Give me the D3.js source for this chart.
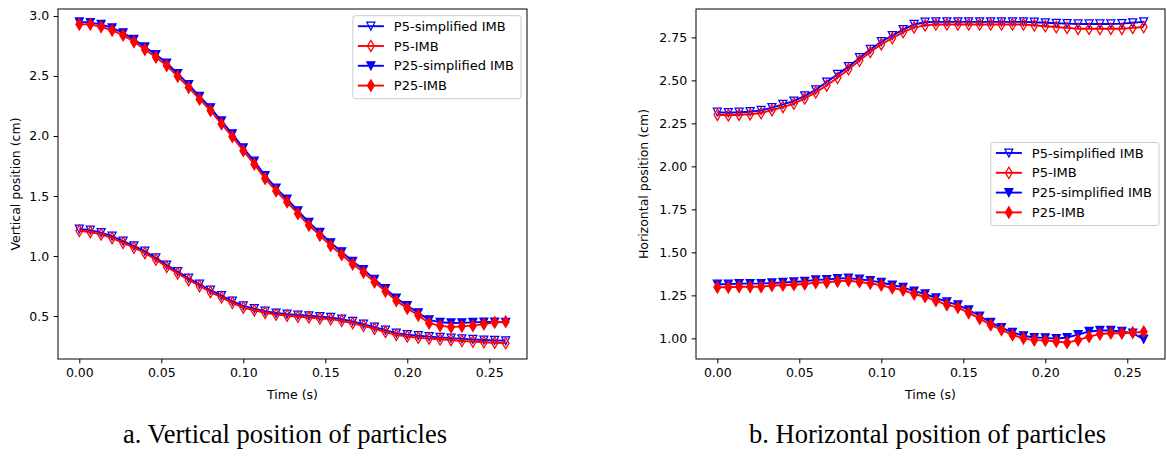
<!DOCTYPE html>
<html>
<head>
<meta charset="utf-8">
<script src="https://d3js.org/d3.v7.min.js"></script>
<style>
  body { margin: 0; background: #fff; }
  svg text { font-family: "DejaVu Sans", sans-serif; fill: #000; }
</style>
</head>
<body>
<svg id="fig" width="1167" height="457"></svg>
<script>
// time samples (s)
var TIME = [0.0000, 0.0067, 0.0133, 0.0200, 0.0267, 0.0333, 0.0400, 0.0467, 0.0533, 0.0600,
            0.0667, 0.0733, 0.0800, 0.0867, 0.0933, 0.1000, 0.1067, 0.1133, 0.1200, 0.1267,
            0.1333, 0.1400, 0.1467, 0.1533, 0.1600, 0.1667, 0.1733, 0.1800, 0.1867, 0.1933,
            0.2000, 0.2067, 0.2133, 0.2200, 0.2267, 0.2333, 0.2400, 0.2467, 0.2533, 0.2600];

// a. vertical position (cm)
var vertP5Simplified = [1.225, 1.215, 1.195, 1.165, 1.125, 1.085, 1.040, 0.985, 0.925, 0.870,
                        0.815, 0.765, 0.715, 0.670, 0.625, 0.585, 0.562, 0.540, 0.525, 0.516,
                        0.508, 0.502, 0.495, 0.488, 0.474, 0.455, 0.432, 0.408, 0.382, 0.358,
                        0.345, 0.336, 0.328, 0.322, 0.316, 0.310, 0.305, 0.300, 0.297, 0.294];
var vertP5IMB = [1.210, 1.200, 1.180, 1.150, 1.110, 1.070, 1.025, 0.970, 0.910, 0.855,
                 0.800, 0.750, 0.700, 0.655, 0.610, 0.570, 0.548, 0.527, 0.512, 0.503,
                 0.494, 0.488, 0.480, 0.474, 0.460, 0.440, 0.418, 0.393, 0.367, 0.343,
                 0.330, 0.320, 0.312, 0.306, 0.300, 0.292, 0.287, 0.282, 0.278, 0.274];
var vertP25Simplified = [2.950, 2.945, 2.930, 2.900, 2.860, 2.805, 2.742, 2.678, 2.608, 2.520,
                         2.428, 2.330, 2.235, 2.125, 2.018, 1.900, 1.790, 1.670, 1.566, 1.474,
                         1.377, 1.280, 1.196, 1.110, 1.035, 0.956, 0.887, 0.806, 0.728, 0.650,
                         0.586, 0.527, 0.468, 0.448, 0.442, 0.443, 0.447, 0.450, 0.450, 0.447];
var vertP25IMB = [2.930, 2.930, 2.910, 2.880, 2.840, 2.785, 2.720, 2.656, 2.587, 2.497,
                  2.405, 2.307, 2.212, 2.100, 1.994, 1.877, 1.765, 1.645, 1.542, 1.450,
                  1.353, 1.256, 1.172, 1.086, 1.011, 0.933, 0.864, 0.783, 0.706, 0.628,
                  0.564, 0.506, 0.440, 0.420, 0.408, 0.414, 0.420, 0.433, 0.447, 0.453];

// b. horizontal position (cm)
var horiP5Simplified = [2.315, 2.312, 2.315, 2.318, 2.325, 2.342, 2.360, 2.380, 2.410, 2.445,
                        2.490, 2.535, 2.580, 2.632, 2.680, 2.725, 2.760, 2.795, 2.825, 2.838,
                        2.840, 2.840, 2.840, 2.840, 2.840, 2.840, 2.840, 2.840, 2.840, 2.838,
                        2.835, 2.832, 2.830, 2.828, 2.828, 2.828, 2.828, 2.830, 2.835, 2.840];
var horiP5IMB = [2.300, 2.297, 2.300, 2.303, 2.310, 2.327, 2.345, 2.365, 2.395, 2.430,
                 2.470, 2.515, 2.565, 2.615, 2.665, 2.710, 2.745, 2.780, 2.808, 2.820,
                 2.825, 2.825, 2.825, 2.825, 2.825, 2.825, 2.825, 2.825, 2.825, 2.820,
                 2.815, 2.810, 2.805, 2.800, 2.800, 2.800, 2.800, 2.800, 2.805, 2.810];
var horiP25Simplified = [1.315, 1.315, 1.318, 1.318, 1.318, 1.322, 1.325, 1.328, 1.332, 1.340,
                         1.342, 1.348, 1.350, 1.344, 1.336, 1.325, 1.310, 1.297, 1.275, 1.258,
                         1.235, 1.212, 1.195, 1.165, 1.130, 1.093, 1.063, 1.035, 1.015, 1.005,
                         1.003, 0.998, 1.005, 1.022, 1.040, 1.046, 1.046, 1.040, 1.030, 0.995];
var horiP25IMB = [1.297, 1.297, 1.300, 1.300, 1.300, 1.307, 1.309, 1.312, 1.316, 1.324,
                  1.326, 1.332, 1.336, 1.328, 1.320, 1.309, 1.293, 1.281, 1.258, 1.242,
                  1.219, 1.195, 1.180, 1.148, 1.115, 1.078, 1.050, 1.020, 1.000, 0.990,
                  0.988, 0.982, 0.975, 0.990, 1.010, 1.025, 1.030, 1.030, 1.033, 1.038];

var SERIES_NAMES = ["P5-simplified IMB", "P5-IMB", "P25-simplified IMB", "P25-IMB"];
var X_TICKS = [0.00, 0.05, 0.10, 0.15, 0.20, 0.25];
var VERT_TICKS = [0.5, 1.0, 1.5, 2.0, 2.5, 3.0];
var HORI_TICKS = [1.00, 1.25, 1.50, 1.75, 2.00, 2.25, 2.50, 2.75];
var CAPTIONS = ["a. Vertical position of particles", "b. Horizontal position of particles"];

var FONT_SIZE = 12.5;
var LEGEND_FONT = 13;
var MARKER = 8;
var svg = d3.select("#fig");

// marker shapes (matplotlib 'v' and 'd')
function markerPath(kind) {
  var h = MARKER / 2;
  if (kind == "v") {
    return "M0," + h + "L" + (-h) + "," + (-h) + "L" + h + "," + (-h) + "Z";
  }
  var dh = MARKER * 0.707, dw = dh * 0.6;
  return "M0," + (-dh) + "L" + dw + ",0L0," + dh + "L" + (-dw) + ",0Z";
}

function seriesStyle(i) {
  return {
    color: (i % 2 == 0) ? "#0000ff" : "#ff0000",
    marker: (i % 2 == 0) ? "v" : "d",
    filled: i >= 2
  };
}

function drawPanel(p) {
  var g = svg.append("g");
  var x = d3.scaleLinear().domain([-0.013, 0.273]).range([p.left, p.right]);
  var y = d3.scaleLinear().domain(p.yDomain).range([p.bottom, p.top]);

  // lines + markers, drawn in legend order
  p.values.forEach(function (vals, i) {
    var st = seriesStyle(i);
    var pts = TIME.map(function (t, k) { return [t, vals[k]]; });
    g.append("path")
      .datum(pts)
      .attr("d", d3.line().x(function (d) { return x(d[0]); }).y(function (d) { return y(d[1]); }))
      .attr("fill", "none")
      .attr("stroke", st.color)
      .attr("stroke-width", 1.9)
      .attr("stroke-linejoin", "round");
    g.selectAll(null)
      .data(pts)
      .enter().append("path")
      .attr("transform", function (d) { return "translate(" + x(d[0]) + "," + y(d[1]) + ")"; })
      .attr("d", markerPath(st.marker))
      .attr("fill", st.filled ? st.color : "none")
      .attr("stroke", st.color)
      .attr("stroke-width", 1.25);
  });

  // axes
  var xAxis = g.append("g")
    .attr("transform", "translate(0," + p.bottom + ")")
    .call(d3.axisBottom(x).tickValues(X_TICKS).tickFormat(d3.format(".2f")).tickSize(4.4).tickPadding(4.4));
  var yAxis = g.append("g")
    .attr("transform", "translate(" + p.left + ",0)")
    .call(d3.axisLeft(y).tickValues(p.yTicks).tickFormat(d3.format(p.yFormat)).tickSize(4.4).tickPadding(4.4));
  [xAxis, yAxis].forEach(function (a) {
    a.select(".domain").remove();
    a.selectAll("text").style("font-size", FONT_SIZE + "px").attr("fill", "#000");
    a.selectAll("line").attr("stroke", "#000");
  });

  g.append("rect")
    .attr("x", p.left).attr("y", p.top)
    .attr("width", p.right - p.left).attr("height", p.bottom - p.top)
    .attr("fill", "none").attr("stroke", "#000").attr("stroke-width", 1);

  g.append("text")
    .attr("x", (p.left + p.right) / 2)
    .attr("y", p.bottom + 40)
    .attr("text-anchor", "middle")
    .style("font-size", FONT_SIZE + "px")
    .text("Time (s)");
  g.append("text")
    .attr("transform", "translate(" + p.ylabelX + "," + (p.top + p.bottom) / 2 + ") rotate(-90)")
    .attr("text-anchor", "middle")
    .attr("dy", "0.35em")
    .style("font-size", FONT_SIZE + "px")
    .text(p.ylabel);

  drawLegend(g, p);

  svg.append("text")
    .attr("x", p.captionX)
    .attr("y", 443)
    .attr("text-anchor", "middle")
    .style("font-family", "'Liberation Serif', 'Times New Roman', serif")
    .style("font-size", "26.5px")
    .text(p.caption);
}

function drawLegend(g, p) {
  var ROW = 19.8, PAD = 5, HANDLE = 26;
  var lg = g.append("g");
  var box = lg.append("rect");
  var textW = 0;
  SERIES_NAMES.forEach(function (name, i) {
    var st = seriesStyle(i);
    var cy = 10.5 + ROW * i;
    lg.append("line")
      .attr("x1", PAD).attr("x2", PAD + HANDLE)
      .attr("y1", cy).attr("y2", cy)
      .attr("stroke", st.color).attr("stroke-width", 1.9);
    lg.append("path")
      .attr("transform", "translate(" + (PAD + HANDLE / 2) + "," + cy + ")")
      .attr("d", markerPath(st.marker))
      .attr("fill", st.filled ? st.color : "none")
      .attr("stroke", st.color)
      .attr("stroke-width", 1.25);
    var t = lg.append("text")
      .attr("x", PAD + HANDLE + 10)
      .attr("y", cy)
      .attr("dy", "0.35em")
      .style("font-size", LEGEND_FONT + "px")
      .text(name);
    textW = Math.max(textW, t.node().getComputedTextLength());
  });
  var w = PAD + HANDLE + 10 + textW + 7, h = 83;
  box.attr("width", w).attr("height", h)
    .attr("rx", 2.5)
    .attr("fill", "#fff").attr("fill-opacity", 0.8)
    .attr("stroke", "#cccccc").attr("stroke-width", 1);
  var lx = p.right - 6 - w;
  var ly = p.legendCenter ? (p.top + p.bottom) / 2 - h / 2 : p.top + 6.7;
  lg.attr("transform", "translate(" + lx + "," + ly + ")");
}

drawPanel({
  left: 58, right: 527, top: 9, bottom: 359,
  yDomain: [0.142, 3.058], yTicks: VERT_TICKS, yFormat: ".1f",
  ylabel: "Vertical position (cm)", ylabelX: 16,
  values: [vertP5Simplified, vertP5IMB, vertP25Simplified, vertP25IMB],
  legendCenter: false,
  caption: CAPTIONS[0], captionX: 285
});

drawPanel({
  left: 696, right: 1165, top: 9, bottom: 359,
  yDomain: [0.88, 2.915], yTicks: HORI_TICKS, yFormat: ".2f",
  ylabel: "Horizontal position (cm)", ylabelX: 643.5,
  values: [horiP5Simplified, horiP5IMB, horiP25Simplified, horiP25IMB],
  legendCenter: true,
  caption: CAPTIONS[1], captionX: 927.5
});
</script>
</body>
</html>
